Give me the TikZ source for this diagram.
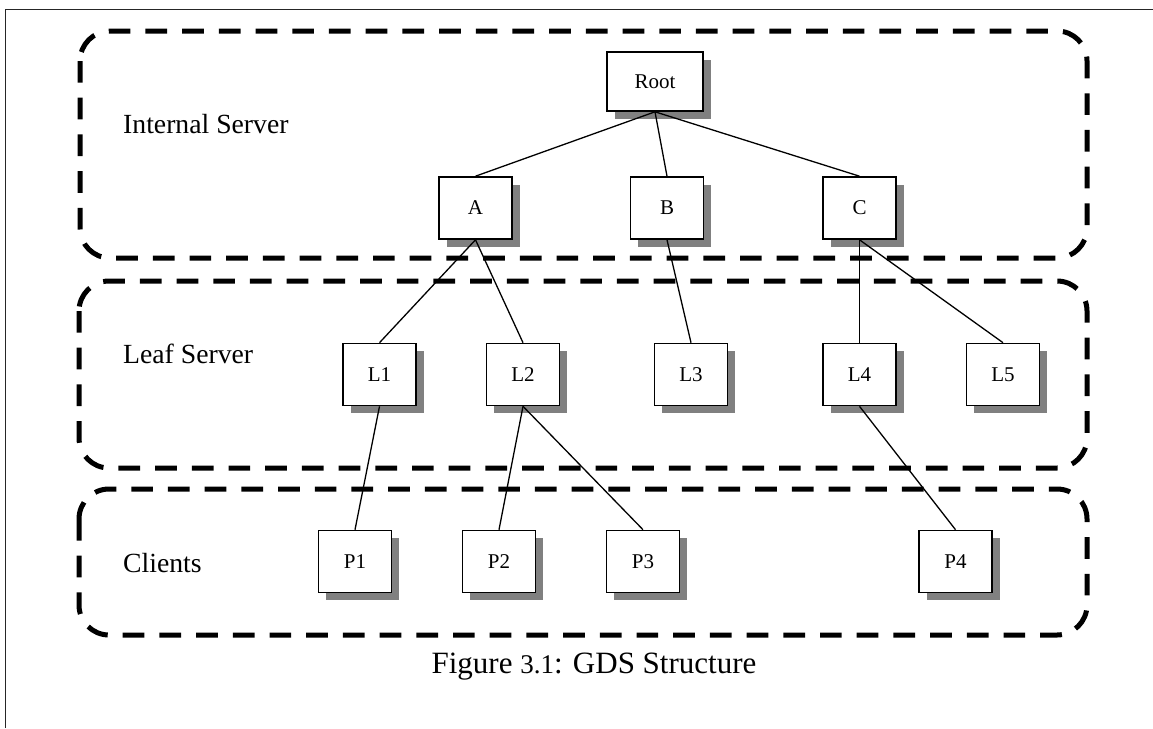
\documentclass[tikz,border=0pt]{standalone}
\usepackage{fontspec}
\setmainfont{Liberation Serif}
\usetikzlibrary{shadows}

\tikzset{
  tier/.style={line width=5pt, dash pattern=on 21.7pt off 15pt, rounded corners=30pt},
  server/.style={draw, line width=1.6pt, fill=white, minimum width=73pt, minimum height=62pt,
    inner sep=0pt, font=\fontsize{21}{24}\selectfont,
    drop shadow={shadow xshift=7.5pt, shadow yshift=-7.5pt, fill=black!50, opacity=1}},
  tierlabel/.style={anchor=base west, inner sep=0pt, font=\fontsize{27.7}{32}\selectfont},
  link/.style={line width=1.3pt}
}

\begin{document}
\begin{tikzpicture}[x=1pt, y=-1pt]
\useasboundingbox (0,0) rectangle (1153,728);

% page frame (top and left edges)
\draw[line width=1.6pt, black!85] (5.5,728) -- (5.5,9.5) -- (1153,9.5);

% tiers
\draw[tier] (80,31) rectangle (1087,258);
\draw[tier] (79,281) rectangle (1087,468);
\draw[tier] (79,489) rectangle (1087,635);

\node[tierlabel] (lblInternal) at (123,133) {Internal Server};
\node[tierlabel] (lblLeaf) at (123,363) {Leaf Server};
\node[tierlabel] (lblClients) at (123,572) {Clients};

% servers and clients
\node[server, minimum width=96pt, minimum height=59pt] (root) at (655,81.5) {Root};
\node[server] (A) at (475.5,208) {A};
\node[server] (B) at (667,208) {B};
\node[server] (C) at (859.5,208) {C};

\node[server] (L1) at (379.5,374.5) {L1};
\node[server] (L2) at (523,374.5) {L2};
\node[server] (L3) at (691,374.5) {L3};
\node[server] (L4) at (859.5,374.5) {L4};
\node[server] (L5) at (1003,374.5) {L5};

\node[server] (P1) at (355,561.5) {P1};
\node[server] (P2) at (499,561.5) {P2};
\node[server] (P3) at (643,561.5) {P3};
\node[server] (P4) at (955.5,561.5) {P4};

% tree links
\draw[link] (root.south) -- (A.north);
\draw[link] (root.south) -- (B.north);
\draw[link] (root.south) -- (C.north);
\draw[link] (A.south) -- (L1.north);
\draw[link] (A.south) -- (L2.north);
\draw[link] (B.south) -- (L3.north);
\draw[link] (C.south) -- (L4.north);
\draw[link] (C.south) -- (L5.north);
\draw[link] (L1.south) -- (P1.north);
\draw[link] (L2.south) -- (P2.north);
\draw[link] (L2.south) -- (P3.north);
\draw[link] (L4.south) -- (P4.north);

% caption
\node[anchor=base, inner sep=0pt, font=\fontsize{31}{35}\selectfont] (caption) at (594,673)
  {Figure {\fontsize{27}{30}\selectfont 3.1}: GDS Structure};
\end{tikzpicture}
\end{document}
